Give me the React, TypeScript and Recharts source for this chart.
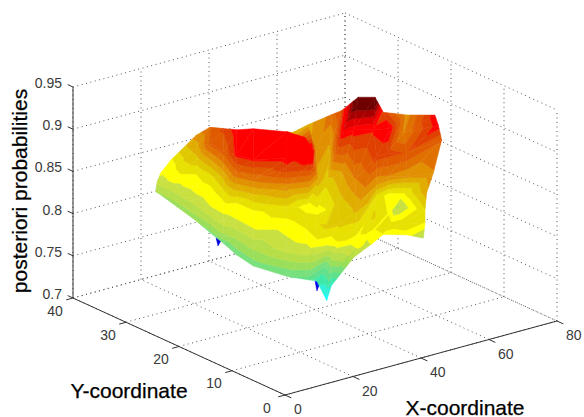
import { Scatter, ScatterChart, XAxis, YAxis } from 'recharts'

const WIDTH = 584
const HEIGHT = 417

const xTicks = [0, 20, 40, 60, 80]
const yTicks = [0, 10, 20, 30, 40]
const zTicks = [0.7, 0.75, 0.8, 0.85, 0.9, 0.95]
const zTickLabels = ['0.7', '0.75', '0.8', '0.85', '0.9', '0.95']

// scattered surface samples, one list per strip, front edge first
const surfaceX = [
  [15.16, 15.05, 15.41, 15.63, 16.31, 16.79, 17.14, 17.55],
  [14.49, 14.82, 15.37, 16.59, 17.59, 19.5, 22.06, 24.05],
  [12.91, 13.15, 15.39, 18.81, 22.63, 24.48, 27.51, 29.87],
  [11.72, 12.14, 14.38, 18.59, 22.57, 23.81, 24.58, 32.29],
  [10.67, 10.22, 11.69, 15.67, 18.31, 21.12, 23.49, 31.08],
  [8.42, 11.12, 13.93, 18.3, 18.76, 19.23, 20.19, 29.49],
  [7.06, 10.16, 12.97, 18.12, 20.15, 20.61, 21.64, 33.09],
  [9.69, 12.62, 20.24, 23.83, 25.64, 25.61, 27.68, 38.03],
  [13.09, 14.97, 19.51, 23.6, 30.76, 31.05, 37.66, 52.35],
  [17.52, 17.03, 18.27, 22.65, 30.47, 36.51, 46.5, 56.83],
  [16.26, 20.55, 20.33, 22.36, 31.9, 39.83, 51.32, 60.75],
  [20.11, 20.02, 21.79, 26.16, 33.62, 43.59, 47.22, 60.16],
  [20.82, 23.41, 26.43, 29.46, 32.27, 40.14, 51.39, 55.31],
  [28.43, 32.75, 35.0, 45.23, 44.35, 47.28, 55.86, 58.39],
  [34.14, 35.6, 42.23, 50.4, 47.63, 50.48, 58.43, 66.38],
  [37.67, 39.41, 51.93, 53.06, 52.58, 55.73, 67.87, 76.66],
  [44.87, 44.97, 48.0, 51.11, 57.27, 69.12, 68.68, 72.1],
]
const surfaceY = [
  [34.07, 34.0, 34.17, 34.24, 34.56, 34.68, 34.71, 34.72],
  [29.74, 30.07, 30.61, 31.58, 32.35, 33.58, 35.35, 36.82],
  [24.96, 25.11, 26.55, 28.74, 31.19, 32.38, 34.32, 35.83],
  [21.67, 21.94, 23.38, 26.08, 28.63, 29.43, 29.61, 34.87],
  [18.48, 18.19, 19.13, 21.69, 23.38, 25.18, 26.7, 31.57],
  [14.52, 16.25, 18.05, 20.86, 21.15, 21.45, 22.07, 28.03],
  [10.51, 12.49, 14.3, 17.6, 18.9, 19.2, 19.86, 27.21],
  [5.9, 7.78, 12.67, 14.97, 16.13, 16.11, 17.44, 24.08],
  [4.3, 5.51, 8.42, 11.05, 15.64, 14.89, 19.12, 32.2],
  [5.26, 4.95, 5.75, 8.55, 13.57, 17.13, 23.98, 32.06],
  [2.57, 5.82, 5.19, 6.49, 12.91, 17.69, 24.43, 30.16],
  [4.09, 4.03, 3.6, 6.41, 11.81, 16.95, 19.6, 27.9],
  [3.6, 1.48, 3.43, 5.37, 7.17, 12.54, 20.07, 21.65],
  [2.21, 4.34, 5.78, 11.73, 11.16, 13.04, 19.16, 20.47],
  [3.35, 3.03, 7.6, 12.84, 11.06, 13.19, 17.67, 24.04],
  [1.2, 2.95, 12.25, 11.71, 10.77, 12.79, 21.21, 26.21],
  [2.68, 2.43, 4.37, 6.06, 8.76, 14.78, 15.13, 17.95],
]
const surfaceZ = [
  [0.8265, 0.829, 0.831, 0.833, 0.836, 0.838, 0.84, 0.844],
  [0.822, 0.8265, 0.832, 0.838, 0.843, 0.845, 0.845, 0.847],
  [0.82, 0.829, 0.838, 0.844, 0.848, 0.859, 0.866, 0.8725],
  [0.8173, 0.8311, 0.8403, 0.8438, 0.8518, 0.8679, 0.8863, 0.8817],
  [0.815, 0.824, 0.836, 0.844, 0.852, 0.863, 0.884, 0.891],
  [0.815, 0.8288, 0.8403, 0.8472, 0.8656, 0.884, 0.899, 0.9013],
  [0.815, 0.829, 0.84, 0.845, 0.859, 0.877, 0.898, 0.901],
  [0.813, 0.836, 0.845, 0.854, 0.8725, 0.8955, 0.9001, 0.901],
  [0.81, 0.836, 0.846, 0.852, 0.843, 0.8978, 0.9, 0.861],
  [0.801, 0.831, 0.847, 0.854, 0.845, 0.866, 0.8725, 0.866],
  [0.787, 0.808, 0.843, 0.856, 0.847, 0.856, 0.868, 0.879],
  [0.7966, 0.8265, 0.8495, 0.8564, 0.8564, 0.8702, 0.9001, 0.8909],
  [0.815, 0.838, 0.845, 0.852, 0.863, 0.875, 0.9, 0.93],
  [0.84, 0.847, 0.856, 0.852, 0.87, 0.893, 0.898, 0.93],
  [0.843, 0.852, 0.847, 0.845, 0.875, 0.893, 0.901, 0.8932],
  [0.845, 0.852, 0.831, 0.847, 0.87, 0.889, 0.875, 0.8725],
  [0.829, 0.847, 0.854, 0.866, 0.875, 0.884, 0.901, 0.901],
]

// plateau of the front hill, it hides part of the back hill
const plateauX = [38.42, 39.52, 35.8, 30.45, 27.0]
const plateauY = [24.33, 21.58, 17.5, 14.31, 17.0]
const plateauZ = [0.9, 0.9, 0.9, 0.9, 0.9]

// two low outliers that poke out under the surface
const spikeX = [[41.18, 40.89, 39.89], [41.33, 41.44, 40.0]]
const spikeY = [[39.43, 38.31, 38.23], [20.85, 19.99, 19.63]]
const spikeZ = [[0.728, 0.728, 0.723], [0.73, 0.73, 0.723]]

const colormap = [
  '#00008f', '#0000a8', '#0000c8', '#0000e0', '#0000ff', '#0020ff', '#0040ff', '#0060ff',
  '#0080ff', '#00a0ff', '#00c0ff', '#00e0ff', '#10ffff', '#30f0d8', '#40e8a8', '#60e08a',
  '#78e07c', '#9ade5a', '#b5de48', '#c8e040', '#ffff00', '#e8e000', '#e0c800', '#e0ac00',
  '#e09000', '#e07000', '#e05a00', '#e04000', '#ff0000', '#e00000', '#a80000', '#700000',
]
const zMin = 0.7
const zMax = 0.925

type P = { u: number; v: number; z: number }

const project = (x: number, y: number, z: number): P => ({
  u: 285 + 3.4 * x - 5.3 * y,
  v: 395 - 0.925 * x - 2.425 * y - 844 * (z - 0.7),
  z,
})

// keep the part of a polygon on one side of a z level
function clip(poly: P[], level: number, above: boolean) {
  const out: P[] = []
  poly.forEach((a, i) => {
    const b = poly[(i + 1) % poly.length]
    const aIn = above ? a.z >= level : a.z <= level
    const bIn = above ? b.z >= level : b.z <= level
    if (aIn) out.push(a)
    if (aIn !== bIn) {
      const t = (level - a.z) / (b.z - a.z)
      out.push({ u: a.u + t * (b.u - a.u), v: a.v + t * (b.v - a.v), z: level })
    }
  })
  return out
}

function bandPolygons(tri: P[]) {
  const res: { u: number; v: number; poly: P[]; fill: string }[] = []
  colormap.forEach((fill, k) => {
    const lo = zMin + ((zMax - zMin) * k) / colormap.length
    const hi = zMin + ((zMax - zMin) * (k + 1)) / colormap.length
    let poly = clip(tri, k === 0 ? -1 : lo, true)
    if (poly.length) poly = clip(poly, k === colormap.length - 1 ? 2 : hi, false)
    if (poly.length >= 3) res.push({ u: poly[0].u, v: poly[0].v, poly, fill })
  })
  return res
}

const vertex = (c: number, r: number) => project(surfaceX[c][r], surfaceY[c][r], surfaceZ[c][r])

const facets = surfaceX.slice(1).flatMap((col, c) =>
  col.slice(1).flatMap((_, r) => [
    ...bandPolygons([vertex(c, r), vertex(c + 1, r), vertex(c + 1, r + 1)]),
    ...bandPolygons([vertex(c, r), vertex(c + 1, r + 1), vertex(c, r + 1)]),
  ])
)

const plateau = bandPolygons(plateauX.map((x, i) => project(x, plateauY[i], plateauZ[i])))

const spikes = spikeX.flatMap((col, s) =>
  bandPolygons(col.map((x, i) => project(x, spikeY[s][i], spikeZ[s][i])))
)

const Facet = (props: any) => {
  const { cx, cy, payload } = props
  const pts = payload.poly
    .map((p: P) => `${cx + p.u - payload.u},${cy + p.v - payload.v}`)
    .join(' ')
  return <polygon points={pts} fill={payload.fill} stroke={payload.fill} strokeWidth={0.5} />
}

const Label = (props: any) => {
  const { cx, cy, payload } = props
  return (
    <text
      x={cx}
      y={cy}
      textAnchor={payload.anchor}
      dominantBaseline="central"
      fontFamily="Liberation Sans, Arial, sans-serif"
      fontSize={payload.size}
      fill={payload.color}
      transform={payload.rotate ? `rotate(${payload.rotate} ${cx} ${cy})` : undefined}
      stroke={payload.bold ? payload.color : undefined}
      strokeWidth={payload.bold ? 0.25 : undefined}
    >
      {payload.text}
    </text>
  )
}

const Nothing = () => <g />

const seg = (a: P, b: P) => [a, b]
const gridLines = [
  ...xTicks.flatMap((x) => [
    seg(project(x, 0, 0.7), project(x, 40, 0.7)),
    seg(project(x, 40, 0.7), project(x, 40, 0.95)),
  ]),
  ...yTicks.flatMap((y) => [
    seg(project(0, y, 0.7), project(80, y, 0.7)),
    seg(project(80, y, 0.7), project(80, y, 0.95)),
  ]),
  ...zTicks.flatMap((z) => [
    seg(project(0, 40, z), project(80, 40, z)),
    seg(project(80, 40, z), project(80, 0, z)),
  ]),
]

const axisLines = [
  seg(project(0, 0, 0.7), project(80, 0, 0.7)),
  seg(project(0, 0, 0.7), project(0, 40, 0.7)),
  seg(project(0, 40, 0.7), project(0, 40, 0.95)),
  ...xTicks.map((x) => seg(project(x, 0, 0.7), project(x, -1.2, 0.7))),
  ...yTicks.map((y) => seg(project(0, y, 0.7), project(-2, y, 0.7))),
  ...zTicks.map((z) => seg(project(0, 40, z), project(0, 41, z))),
]

const tickColor = '#3a3a3a'
const labels = [
  ...xTicks.map((x) => {
    const p = project(x, 0, 0.7)
    return { u: p.u + 9, v: p.v + 14, text: String(x), anchor: 'start', size: 14, color: tickColor }
  }),
  ...yTicks.map((y) => {
    const p = project(0, y, 0.7)
    return { u: p.u - 18, v: p.v + 12.5, text: String(y), anchor: 'middle', size: 14, color: tickColor }
  }),
  ...zTicks.map((z, i) => {
    const p = project(0, 40, z)
    return { u: p.u - 11, v: p.v - 4, text: zTickLabels[i], anchor: 'end', size: 14, color: tickColor }
  }),
  { u: 129, v: 390, text: 'Y-coordinate', anchor: 'middle', size: 21, color: '#000', bold: true },
  { u: 465, v: 407, text: 'X-coordinate', anchor: 'middle', size: 21, color: '#000', bold: true },
  { u: 19, v: 191, text: 'posteriori probabilities', anchor: 'middle', size: 21, color: '#000', rotate: -90, bold: true },
]

export default function App() {
  return (
    <div style={{ position: 'absolute', left: 0, top: 0 }}>
      <ScatterChart width={WIDTH} height={HEIGHT} margin={{ top: 0, right: 0, bottom: 0, left: 0 }}>
        <XAxis type="number" dataKey="u" domain={[0, WIDTH]} hide />
        <YAxis type="number" dataKey="v" domain={[0, HEIGHT]} reversed hide />
        {gridLines.map((line, i) => (
          <Scatter
            key={`grid-${i}`}
            data={line}
            line={{ stroke: '#555', strokeWidth: 1, strokeDasharray: '1 3.5' }}
            shape={Nothing}
            isAnimationActive={false}
          />
        ))}
        {axisLines.map((line, i) => (
          <Scatter
            key={`axis-${i}`}
            data={line}
            line={{ stroke: '#333', strokeWidth: 1 }}
            shape={Nothing}
            isAnimationActive={false}
          />
        ))}
        <Scatter data={spikes} shape={Facet} isAnimationActive={false} />
        <Scatter data={facets} shape={Facet} isAnimationActive={false} />
        <Scatter data={plateau} shape={Facet} isAnimationActive={false} />
        <Scatter data={labels} shape={Label} isAnimationActive={false} />
      </ScatterChart>
    </div>
  )
}
